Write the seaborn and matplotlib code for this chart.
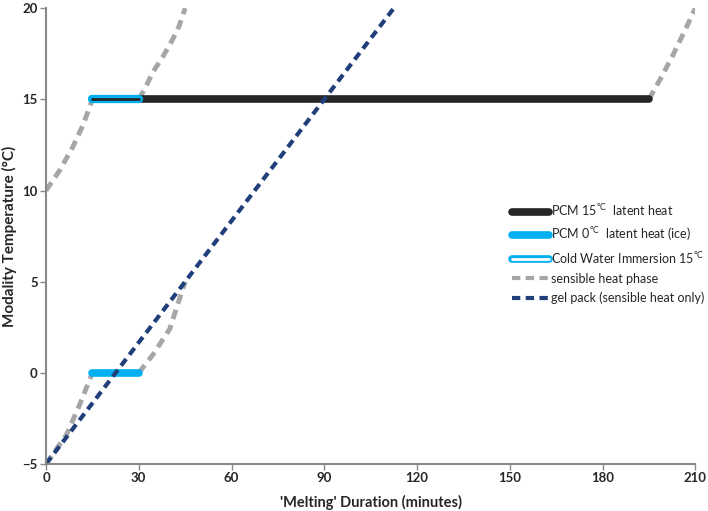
import seaborn as sns
import numpy as np
import matplotlib.pyplot as plt
import matplotlib.patheffects as pe
from matplotlib.lines import Line2D

# sensible heat phases
sens_a_x = [0, 4.4, 8.7, 12, 15]
sens_a_y = [10, 11.1, 12.4, 13.6, 15]
sens_b_x = [30, 32, 34.6, 38, 41, 43, 45]
sens_b_y = [15, 15.6, 16.5, 17.4, 18.3, 19.0, 20]
sens_c_x = [195, 199, 203, 207, 210]
sens_c_y = [15, 16.2, 17.5, 18.9, 20]
sens_d_x = [0, 6.6, 11, 15]
sens_d_y = [-5, -3.4, -1.7, 0]
sens_e_x = [30, 34.6, 40, 45]
sens_e_y = [0, 1.0, 2.4, 5]

# latent heat plateaus
pcm15_x = [15, 195]
pcm15_y = [15, 15]
pcm0_x = [15, 30]
pcm0_y = [0, 0]
cwi_x = [15, 30]
cwi_y = [15, 15]

# gel pack
gel_x = [0, 22.5, 90, 112.5]
gel_y = [-5, 0, 15, 20]

xticks = [0, 30, 60, 90, 120, 150, 180, 210]
yticks = [-5, 0, 5, 10, 15, 20]

sns.set_style("white")
plt.rcParams['font.family'] = ['Lato', 'DejaVu Sans']
plt.rcParams['mathtext.fontset'] = 'custom'
plt.rcParams['mathtext.rm'] = 'Lato'

fig = plt.figure(figsize=(7.08, 5.11), dpi=100)
ax = fig.add_axes([0.065, 0.092, 0.917, 0.892])

gray = '#a6a6a6'
black = '#262626'
blue = '#00b0f0'
navy = '#203f7a'

for sx, sy in [(sens_a_x, sens_a_y), (sens_b_x, sens_b_y), (sens_c_x, sens_c_y),
               (sens_d_x, sens_d_y), (sens_e_x, sens_e_y)]:
    sns.lineplot(x=sx, y=sy, ax=ax, color=gray, lw=3.5, linestyle=(0, (2, 1.3)),
                 sort=False, estimator=None)

sns.lineplot(x=pcm15_x, y=pcm15_y, ax=ax, color=black, lw=5.5, estimator=None,
             solid_capstyle='round')
sns.lineplot(x=pcm0_x, y=pcm0_y, ax=ax, color=blue, lw=5.5, estimator=None,
             solid_capstyle='round')
sns.lineplot(x=cwi_x, y=cwi_y, ax=ax, color=black, lw=2, estimator=None,
             path_effects=[pe.Stroke(linewidth=6, foreground=blue, capstyle='round'), pe.Normal()])
sns.lineplot(x=gel_x, y=gel_y, ax=ax, color=navy, lw=3, linestyle=(0, (2, 1.3)),
             sort=False, estimator=None)

ax.set_xlim(0, 210)
ax.set_ylim(-5, 20)
ax.set_xticks(xticks)
ax.set_yticks(yticks)
ax.tick_params(axis='both', which='both', length=4, width=1, color='#888888',
               direction='out', labelsize=9.5, pad=2, left=True, bottom=True)
for lab in ax.get_xticklabels() + ax.get_yticklabels():
    lab.set_fontweight('bold')
for s in ['top', 'right']:
    ax.spines[s].set_visible(False)
for s in ['left', 'bottom']:
    ax.spines[s].set_color('#888888')
    ax.spines[s].set_linewidth(1.5)

ax.set_xlabel("'Melting' Duration (minutes)", fontsize=10.5, fontweight='bold')
ax.set_ylabel("Modality Temperature (°C)", fontsize=11, fontweight='bold')
ax.xaxis.set_label_coords(0.5, -0.068)
ax.yaxis.set_label_coords(-0.044, 0.5)

handles = [
    Line2D([], [], color=black, lw=5.5, solid_capstyle='round'),
    Line2D([], [], color=blue, lw=5.5, solid_capstyle='round'),
    Line2D([], [], color='white', lw=2,
           path_effects=[pe.Stroke(linewidth=5.5, foreground=blue, capstyle='round'), pe.Normal()]),
    Line2D([], [], color=gray, lw=3, linestyle=(0, (2, 1.3))),
    Line2D([], [], color=navy, lw=3, linestyle=(0, (2, 1.3))),
]
labels = [
    r"PCM 15$^{\mathrm{°C}}$  latent heat",
    r"PCM 0$^{\mathrm{°C}}$  latent heat (ice)",
    r"Cold Water Immersion 15$^{\mathrm{°C}}$",
    "sensible heat phase",
    "gel pack (sensible heat only)",
]
ax.legend(handles, labels, loc='upper left', bbox_to_anchor=(0.71, 0.585), frameon=False,
          fontsize=9, handlelength=3.0, handletextpad=0.1, labelspacing=0.55,
          borderaxespad=0)

fig.savefig('out.png', dpi=100)
